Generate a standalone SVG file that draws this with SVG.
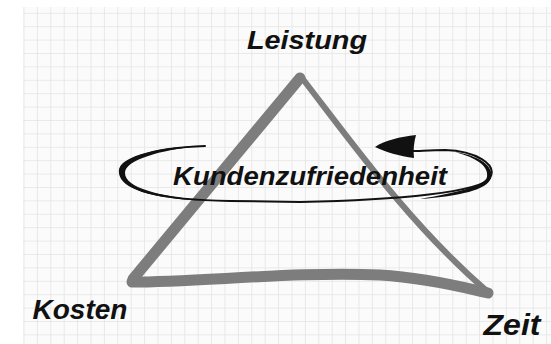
<svg xmlns="http://www.w3.org/2000/svg" width="551" height="344" viewBox="0 0 551 344">
  <defs>
    <pattern id="grid" x="23.5" y="12.8" width="13.4" height="13.4" patternUnits="userSpaceOnUse">
      <path d="M0,0 H13.4 M0,0 V13.4" fill="none" stroke="#e4e4e4" stroke-width="1.6"/>
    </pattern>
    <style>
      .lbl { font-family: "Liberation Sans", "DejaVu Sans", sans-serif; font-weight: bold; font-style: italic; fill: #111; }
      .edge { fill: none; stroke: #7d7d7d; stroke-linecap: round; stroke-linejoin: round; }
      .loop { fill: none; stroke: #111; stroke-linecap: round; }
      .ink { fill: #111; }
    </style>
  </defs>
  <rect x="0" y="0" width="551" height="344" fill="#ffffff"/>
  <rect x="23" y="7" width="528" height="337" fill="#fbfbfb"/>
  <rect x="23" y="7" width="528" height="337" fill="url(#grid)"/>

  <g id="connectors">
    <path class="edge" d="M133,279 L300,78" stroke-width="11"/>
    <path class="edge" d="M302,78 C350,140 410,225 488,292" stroke-width="6"/>
    <path class="edge" d="M132,282 C200,282 300,271 380,275 C430,278 470,289 488,293" stroke-width="11"/>
  </g>

  <g id="loop">
    <path class="loop" stroke-width="2" d="M205,146 C150,148 118,160 120,172 C122,190 160,200 230,201 L300,202 C400,200 480,192 490,178 C498,164 475,151 445,150 C430,150 420,151 413,151"/>
    <path class="ink" d="M200,146 C150,147 117,160 119,173 C121,189 150,198 205,201 C160,196 125,188 125,173 C125,160 160,150 200,146 Z"/>
    <path class="ink" d="M455,152 C480,156 494,166 491,178 C487,190 460,196 420,199 C455,193 485,186 487,177 C489,167 478,158 455,152 Z"/>
    <path class="ink" d="M375,147 C385,140 400,137 416,135 C414,142 413,150 414,158 C400,156 385,152 375,147 Z"/>
  </g>

  <g id="node-kunden">
    <text class="lbl" x="310" y="185" font-size="25" text-anchor="middle" textLength="274" lengthAdjust="spacingAndGlyphs">Kundenzufriedenheit</text>
  </g>
  <g id="node-leistung">
    <text class="lbl" x="307" y="49" font-size="26" text-anchor="middle" textLength="120" lengthAdjust="spacingAndGlyphs">Leistung</text>
  </g>
  <g id="node-kosten">
    <text class="lbl" x="80" y="319" font-size="28" text-anchor="middle" textLength="95" lengthAdjust="spacingAndGlyphs">Kosten</text>
  </g>
  <g id="node-zeit">
    <text class="lbl" x="512" y="335" font-size="30" text-anchor="middle" textLength="57" lengthAdjust="spacingAndGlyphs">Zeit</text>
  </g>
</svg>
